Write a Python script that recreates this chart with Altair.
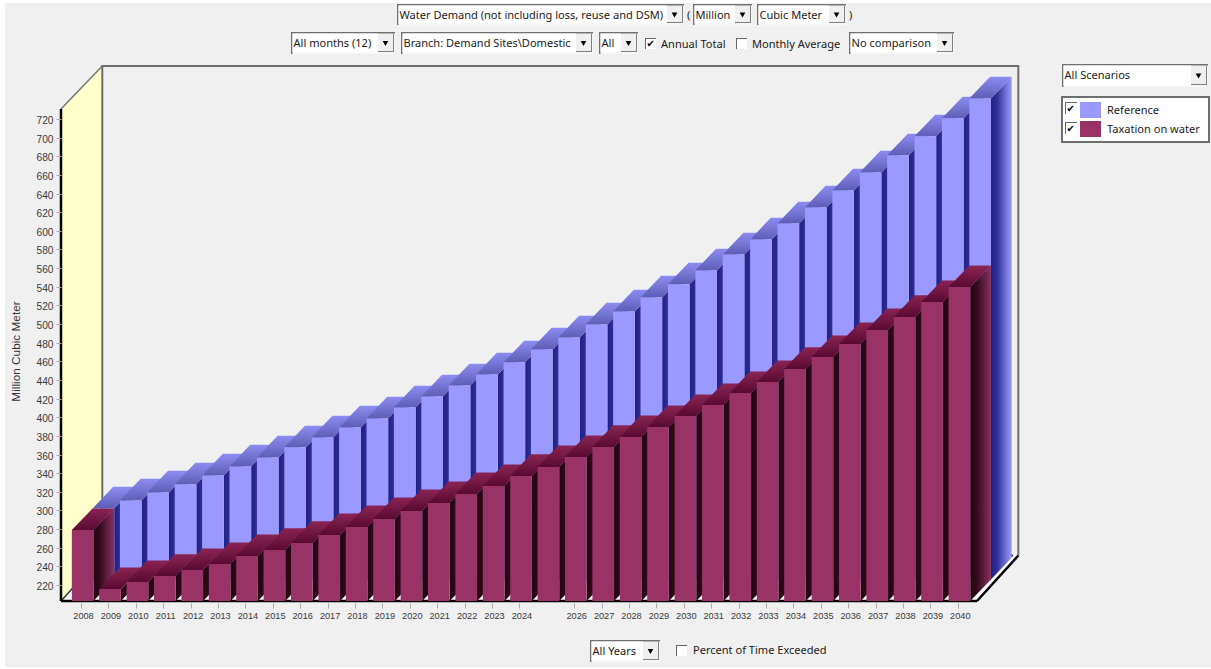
import altair as alt
import pandas as pd

# ---- chart values -------------------------------------------------------
years = list(range(2008, 2041))
taxation = [279.0, 215.7, 223.2, 229.7, 236.1, 242.5, 251.1, 257.6, 265.1, 273.6, 282.2,
            290.8, 299.4, 308.0, 317.6, 326.2, 337.0, 346.6, 357.3, 368.1, 378.8, 389.5,
            401.3, 413.1, 426.0, 437.8, 451.8, 464.6, 478.6, 493.6, 507.6, 523.6, 539.7]
reference = [279.0, 287.6, 296.2, 304.8, 314.4, 324.1, 333.7, 344.5, 355.2, 365.9, 375.6,
             387.4, 399.2, 411.0, 422.8, 435.7, 449.6, 462.5, 476.4, 490.4, 505.4, 519.4,
             534.4, 551.5, 567.6, 584.8, 602.0, 620.2, 639.5, 657.8, 678.2, 697.5, 718.9]
y_ticks = list(range(220, 721, 20))
x_ticks = [y for y in years if y != 2025]
series_names = ["Reference", "Taxation on water"]
y_title = "Million Cubic Meter"
row1_labels = ["Water Demand (not including loss, reuse and DSM)", "Million", "Cubic Meter"]
row2_labels = ["All months (12)", "Branch: Demand Sites\\Domestic", "All", "No comparison"]
check_labels = ["Annual Total", "Monthly Average", "Percent of Time Exceeded"]
other_combos = ["All Scenarios", "All Years"]

# ---- scales and the oblique projection ----------------------------------
LEFT, TOP, W, H = 61, 66, 959, 535
PER_YEAR = 27.4
PER_UNIT = 0.932
X0 = 2008 - 20 / PER_YEAR
Y0 = 220 - 16 / PER_UNIT
x_scale = alt.Scale(domain=[X0, X0 + W / PER_YEAR], nice=False, zero=False)
y_scale = alt.Scale(domain=[Y0, Y0 + H / PER_UNIT], nice=False, zero=False)

DEPTH_X = 20.7 / PER_YEAR     # one bar row, horizontally
DEPTH_V = 21.6 / PER_UNIT     # one bar row, vertically
BAR_L, BAR_R = -0.335, 0.455
FRAME_X = 41.3 / PER_YEAR
FRAME_V = 45.5 / PER_UNIT
Y_TOP = Y0 + H / PER_UNIT
FRONT_TOP = 220 + (585 - 109) / PER_UNIT
X_END = 2008 + (977 - 81) / PER_YEAR

FONT = "Noto Sans"
AXIS_FONT = "Liberation Sans"
INK = "#1a1a1a"
BLUE = "#9999ff"
MAROON = "#993366"

x_axis = alt.Axis(
    values=x_ticks, format="d", offset=2, domain=False, grid=False, tickSize=5, tickColor="#aaaaaa",
    labelFont=AXIS_FONT, labelFontSize=9.2, labelColor="#3a3a3a", labelPadding=3, labelOffset=2,
    labelOverlap=False, labelFlush=False, title=None, zindex=1)
y_axis = alt.Axis(
    values=y_ticks, format="d", domain=False, grid=False, tickSize=5, tickColor="#aaaaaa",
    labelFont=AXIS_FONT, labelFontSize=10.2, labelColor="#3a3a3a", labelPadding=3, labelOffset=1.5,
    labelOverlap=False, title=y_title, titleFont=AXIS_FONT, titleFontSize=11.8,
    titleFontWeight="normal", titleColor="#333333", titleX=21 - LEFT, titleY=351 - TOP, zindex=1)


def gradient(stops, horizontal):
    ends = dict(x1=0, y1=0, x2=1, y2=0) if horizontal else dict(x1=0, y1=1, x2=0, y2=0)
    return alt.Gradient(gradient="linear",
                        stops=[alt.GradientStop(color=c, offset=o) for o, c in stops], **ends)


def xq(f="x"):
    return alt.X(f"{f}:Q", scale=x_scale, axis=x_axis)


def yq(f="y"):
    return alt.Y(f"{f}:Q", scale=y_scale, axis=y_axis)


def bar_row(values, shift_x, shift_v, front, top_stops, side_stops):
    base = Y0 + shift_v
    fronts, tops, sides = [], [], []
    for yr, v in zip(years, values):
        xl = yr + BAR_L + shift_x
        xr = yr + BAR_R + shift_x
        vv = v + shift_v
        fronts.append(dict(x=xl, x2=xr, y=base, y2=vv))
        tops += [dict(k=yr, y=vv, x=xl, x2=xr),
                 dict(k=yr, y=vv + DEPTH_V, x=xl + DEPTH_X, x2=xr + DEPTH_X)]
        sides += [dict(k=yr, x=xr, y=vv, y2=base),
                  dict(k=yr, x=xr + DEPTH_X, y=vv + DEPTH_V, y2=base + DEPTH_V)]
    side = alt.Chart(pd.DataFrame(sides)).mark_area(
        color=gradient(side_stops, True), interpolate="linear").encode(
        x=xq(), y=yq(), y2="y2:Q", detail="k:N")
    cap = alt.Chart(pd.DataFrame(tops)).mark_area(
        color=gradient(top_stops, False), orient="horizontal", interpolate="linear").encode(
        y=yq(), x=xq(), x2="x2:Q", detail="k:N")
    face = alt.Chart(pd.DataFrame(fronts)).mark_rect(color=front).encode(
        x=xq(), x2="x2:Q", y=yq(), y2="y2:Q")
    return [side, cap, face]


def seg(points, color, width):
    df = pd.DataFrame([dict(o=i, x=p[0], y=p[1]) for i, p in enumerate(points)])
    return alt.Chart(df).mark_line(color=color, strokeWidth=width, interpolate="linear").encode(
        x=xq(), y=yq(), order="o:Q")


# ---- pixel helpers for the form controls around the plot -----------------
BLANK = alt.Data(values=[{}])


def rect(x0, y0, x1, y1, fill):
    return alt.Chart(BLANK).mark_rect(color=fill, opacity=1).encode(
        x=alt.value(x0 - LEFT), x2=alt.value(x1 - LEFT),
        y=alt.value(y0 - TOP), y2=alt.value(y1 - TOP))


def label(s, x, y, size=11.05, color=INK, font=FONT, weight="normal"):
    return alt.Chart(BLANK).mark_text(text=s, align="left", baseline="middle", fontSize=size,
                                      font=font, color=color, fontWeight=weight).encode(
        x=alt.value(x - LEFT), y=alt.value(y - TOP))


def combo(s, x0, y0, x1, y1, text_dy=0.5):
    btn = x1 - 17
    cy = (y0 + y1) / 2
    return [
        rect(x0, y0, x1, y1, "#f7f7f7"),
        rect(x0, y0, x1, y0 + 1.5, "#707070"),
        rect(x0, y0, x0 + 1.5, y1, "#707070"),
        rect(x0 + 1.5, y0 + 1.5, btn, y1 - 1.5, "#ffffff"),
        rect(btn, y0 + 2, x1 - 1, y1 - 2, "#f0f0f0"),
        rect(x1 - 2, y0 + 2, x1 - 1, y1 - 2, "#808080"),
        rect(btn, y1 - 3, x1 - 1, y1 - 2, "#808080"),
        alt.Chart(BLANK).mark_point(shape="triangle-down", filled=True, color="#000000",
                                    size=32, opacity=1).encode(
            x=alt.value(btn + 7.5 - LEFT), y=alt.value(cy + 0.5 - TOP)),
        label(s, x0 + 2.5, cy + text_dy),
    ]


def checkbox(x0, y0, ticked, size=11):
    parts = [
        rect(x0, y0, x0 + size, y0 + size, "#ffffff"),
        rect(x0, y0, x0 + size, y0 + 1, "#666666"),
        rect(x0, y0, x0 + 1, y0 + size, "#666666"),
    ]
    if ticked:
        parts.append(label("\u2714", x0 + 1.5, y0 + size / 2 + 0.5, 10, "#000000", "DejaVu Sans"))
    return parts


# ---- assemble, back to front ---------------------------------------------
layers = [rect(5, 3, 1211, 667, "#f0f0f0")]

# walls and floor of the box
wall = pd.DataFrame([dict(x=X0, y=FRONT_TOP, y2=Y0),
                     dict(x=X0 + FRAME_X, y=Y_TOP, y2=Y0 + FRAME_V)])
layers.append(alt.Chart(wall).mark_area(color="#ffffcc", interpolate="linear").encode(
    x=xq(), y=yq(), y2="y2:Q"))
floor = pd.DataFrame([dict(y=Y0, x=X0, x2=X_END),
                      dict(y=Y0 + FRAME_V, x=X0 + FRAME_X, x2=X_END + FRAME_X)])
layers.append(alt.Chart(floor).mark_area(color="#ffffff", orient="horizontal", interpolate="linear").encode(
    y=yq(), x=xq(), x2="x2:Q"))
layers += [
    seg([(X0 + FRAME_X, Y0 + FRAME_V), (X0 + FRAME_X, Y_TOP), (X_END + FRAME_X, Y_TOP),
         (X_END + FRAME_X, Y0 + FRAME_V)], "#6e6e6e", 2),
    seg([(X0, FRONT_TOP), (X0 + FRAME_X, Y_TOP)], "#777777", 1.5),
    seg([(X0, Y0), (X0 + FRAME_X, Y0 + FRAME_V)], "#333333", 1.5),
    seg([(X0, Y0), (X_END, Y0)], "#000000", 2.5),
    seg([(X_END, Y0), (X_END + FRAME_X, Y0 + FRAME_V)], "#000000", 2.5),
    seg([(X_END + FRAME_X - 0.2, Y0 + FRAME_V), (X_END + FRAME_X - 0.32, Y0 + FRAME_V)], "#000000", 2),
]

# rear row first, then the nearer row
layers += bar_row(reference, DEPTH_X, DEPTH_V, BLUE,
                  [(0, "#5e5eb6"), (1, "#8c8cf2")],
                  [(0, "#20208a"), (0.28, "#2c2c94"), (1, "#9c9cff")])
layers += bar_row(taxation, 0, 0, MAROON,
                  [(0, "#580a30"), (1, "#8a2454")],
                  [(0, "#1e050e"), (0.28, "#300a18"), (1, "#8c3060")])

layers.append(seg([(X0, Y0), (X0, FRONT_TOP)], "#000000", 2.5))

# control rows above the plot
layers += combo(row1_labels[0], 397, 4, 684, 25, 1)
layers.append(label("(", 687, 15.5))
layers += combo(row1_labels[1], 693, 4, 752, 25, 1)
layers += combo(row1_labels[2], 757, 4, 846, 25, 1)
layers.append(label(")", 849, 15.5))
layers += combo(row2_labels[0], 291, 32, 395, 54, 1)
layers += combo(row2_labels[1], 401, 32, 593, 54, 1)
layers += combo(row2_labels[2], 599, 32, 638, 54, 1)
layers += checkbox(645, 38, True)
layers.append(label(check_labels[0], 661, 44.5))
layers += checkbox(736, 38, False)
layers.append(label(check_labels[1], 752, 44.5))
layers += combo(row2_labels[3], 849, 32, 954, 54, 1)

# scenario picker and legend
layers += combo(other_combos[0], 1062, 64, 1208, 87)
layers += [rect(1061, 96, 1210, 143, "#6e6e6e"), rect(1063, 98, 1208, 141, "#ffffff")]
layers += checkbox(1065, 102, True, 12)
layers += checkbox(1065, 122, True, 12)
layers += [rect(1080, 102, 1101, 118, BLUE), rect(1080, 121, 1101, 137, MAROON)]
layers += [label(series_names[0], 1107, 110.5), label(series_names[1], 1107, 129.5)]

# controls under the plot
layers += combo(other_combos[1], 590, 640, 660, 662)
layers += checkbox(676, 645, False)
layers.append(label(check_labels[2], 693, 650.5))

chart = alt.layer(*layers).properties(
    width=W, height=H,
    background="#ffffff",
    padding={"left": LEFT, "top": TOP, "right": 1211 - LEFT - W, "bottom": 669 - TOP - H},
    autosize=alt.AutoSizeParams(type="none"),
).configure_view(stroke=None)

chart.save("out.html", embed_options={"renderer": "svg", "actions": False})
